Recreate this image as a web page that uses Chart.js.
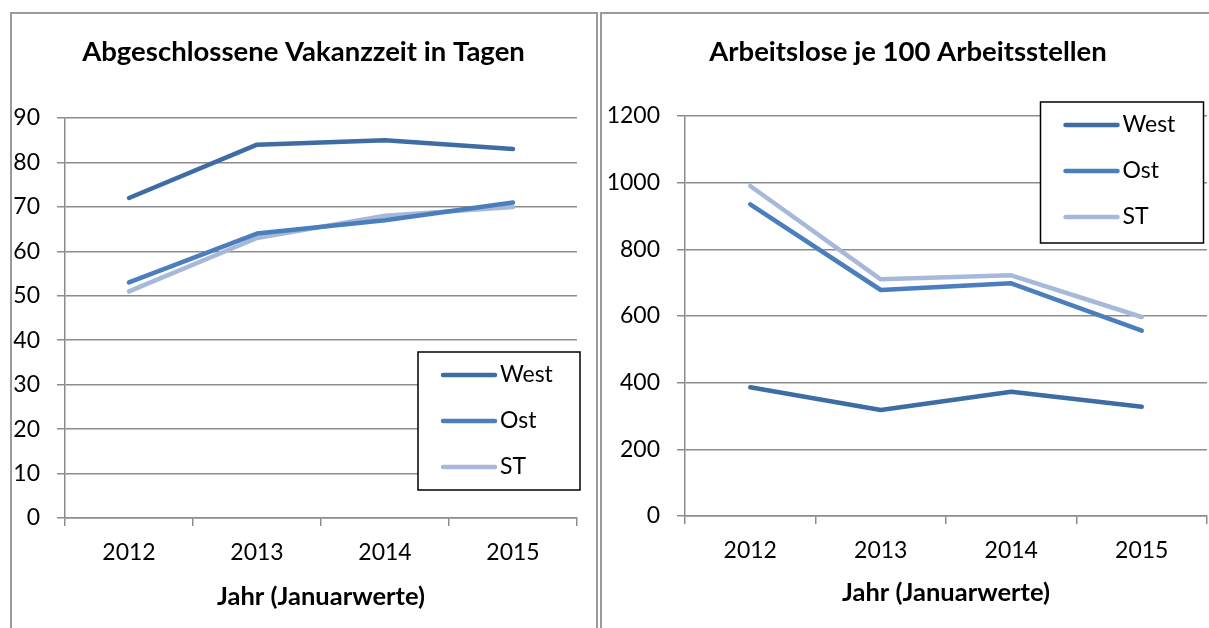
<!DOCTYPE html>
<html lang="de">
<head>
<meta charset="UTF-8">
<title>Vakanzzeit und Arbeitslose</title>
<script src="https://cdn.jsdelivr.net/npm/chart.js"></script>
<style>
    html, body { margin: 0; padding: 0; background: #fff; overflow: hidden; }
    body { width: 1209px; height: 628px; position: relative; font-family: Lato, sans-serif; }
    .panel { position: absolute; top: 12px; height: 700px; border: 2px solid #9b9b9b; box-sizing: border-box; }
    #p1 { left: 10px; width: 588px; }
    #p2 { left: 600px; width: 700px; }
    canvas { position: absolute; }
    #c1 { left: 11px; top: 13px; }
    #c2 { left: 602px; top: 13px; }
</style>
</head>
<body>
<div class="panel" id="p1"></div>
<div class="panel" id="p2"></div>
<canvas id="c1" width="585" height="615"></canvas>
<canvas id="c2" width="612" height="615"></canvas>

<script>
    // Daten (Januarwerte)
    const years = ['2012', '2013', '2014', '2015'];

    // Abgeschlossene Vakanzzeit in Tagen
    const vakWest = [72, 84, 85, 83];
    const vakOst = [53, 64, 67, 71];
    const vakST = [51, 63, 68, 70];

    // Arbeitslose je 100 Arbeitsstellen
    const alWest = [386, 318, 373, 328];
    const alOst = [935, 678, 698, 556];
    const alST = [990, 710, 722, 597];

    const seriesNames = ['West', 'Ost', 'ST'];
    const seriesColors = ['#3e6ca4', '#4a7ebc', '#a6b9d9'];
    const gridColor = '#8c8c8c';

    // Legende mit Rahmen innerhalb der Zeichenfläche
    const boxLegend = {
        id: 'boxLegend',
        afterDraw(chart, args, opts) {
            const ctx = chart.ctx;
            ctx.save();
            ctx.fillStyle = '#fff';
            ctx.fillRect(opts.x, opts.y, opts.w, opts.h);
            ctx.lineWidth = 1.5;
            ctx.strokeStyle = '#000';
            ctx.strokeRect(opts.x, opts.y, opts.w, opts.h);
            chart.data.datasets.forEach((ds, i) => {
                const y = opts.y + 23 + i * 46;
                ctx.beginPath();
                ctx.lineCap = 'round';
                ctx.lineWidth = 4.5;
                ctx.strokeStyle = ds.borderColor;
                ctx.moveTo(opts.x + 25, y);
                ctx.lineTo(opts.x + 77, y);
                ctx.stroke();
                ctx.fillStyle = '#000';
                ctx.font = '23px Lato';
                ctx.textBaseline = 'middle';
                ctx.fillText(ds.label, opts.x + 82, y);
            });
            ctx.restore();
        }
    };

    function makeDatasets(values) {
        return values.map((v, i) => ({
            label: seriesNames[i],
            data: v,
            borderColor: seriesColors[i],
            backgroundColor: seriesColors[i],
            borderWidth: 4.5,
            borderCapStyle: 'round',
            borderJoinStyle: 'round',
            pointRadius: 0,
            tension: 0
        }));
    }

    function makeChart(id, title, values, yMax, yStep, cfg) {
        return new Chart(document.getElementById(id), {
            type: 'line',
            data: { labels: years, datasets: makeDatasets(values) },
            options: {
                responsive: false,
                animation: false,
                layout: { padding: { left: 0, right: 0, top: 0, bottom: cfg.padBottom } },
                plugins: {
                    legend: { display: false },
                    tooltip: { enabled: false },
                    title: {
                        display: true,
                        text: title,
                        color: '#000',
                        font: { family: 'Lato', size: 27.5, weight: 'bold' },
                        padding: { top: 22.5, bottom: cfg.titleBottom }
                    },
                    boxLegend: cfg.legend
                },
                scales: {
                    x: {
                        offset: true,
                        grid: { offset: true, drawOnChartArea: false, tickLength: 8, color: gridColor, lineWidth: 1.5 },
                        border: { color: gridColor, width: 1.5 },
                        ticks: { color: '#000', padding: 13, maxRotation: 0, font: { family: 'Lato', size: 23 } },
                        title: {
                            display: true,
                            text: 'Jahr (Januarwerte)',
                            color: '#000',
                            font: { family: 'Lato', size: 25.5, weight: 'bold' },
                            padding: { top: 0, bottom: 0 }
                        },
                        afterFit(scale) { scale.height = cfg.xHeight; }
                    },
                    y: {
                        min: 0,
                        max: yMax,
                        grid: { color: gridColor, lineWidth: 1.5, tickLength: 8 },
                        border: { color: gridColor, width: 1.5 },
                        ticks: {
                            stepSize: yStep,
                            color: '#000',
                            padding: 17,
                            font: { family: 'Lato', size: 23 },
                            callback: (value) => String(value)
                        },
                        afterFit(scale) { scale.width = cfg.yWidth; }
                    },
                    // leere Achse rechts, damit der Titel über der ganzen Fläche zentriert bleibt
                    spacer: {
                        position: 'right',
                        grid: { display: false },
                        border: { display: false },
                        ticks: { display: false },
                        afterFit(scale) { scale.width = cfg.rightWidth; }
                    }
                }
            },
            plugins: [boxLegend]
        });
    }

    makeChart('c1', 'Abgeschlossene Vakanzzeit in Tagen', [vakWest, vakOst, vakST], 90, 10, {
        padBottom: 15.7, titleBottom: 49.5, xHeight: 94.3, yWidth: 54, rightWidth: 19,
        legend: { x: 407, y: 339, w: 162, h: 138 }
    });

    makeChart('c2', 'Arbeitslose je 100 Arbeitsstellen', [alWest, alOst, alST], 1200, 200, {
        padBottom: 19.7, titleBottom: 47.5, xHeight: 92.3, yWidth: 83, rightWidth: 7,
        legend: { x: 438.5, y: 89, w: 163, h: 141 }
    });
</script>
</body>
</html>
